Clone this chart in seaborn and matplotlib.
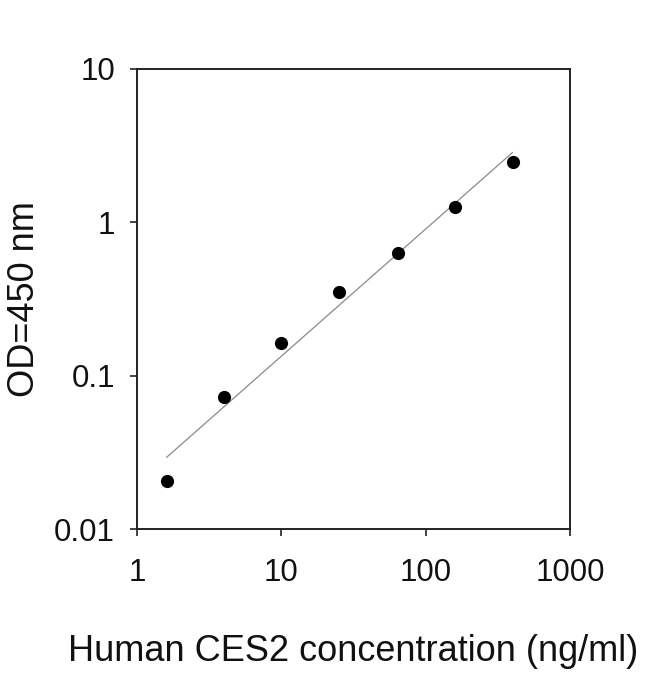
import numpy as np
import pandas as pd
import matplotlib
matplotlib.use("Agg")
import matplotlib.pyplot as plt
import seaborn as sns

# Standard curve data
concentration = [1.6, 4.0, 10.0, 25.0, 64.0, 160.0, 400.0]   # ng/ml
od450 = [0.0206, 0.073, 0.164, 0.35, 0.63, 1.25, 2.47]

x_ticks = [1, 10, 100, 1000]
x_tick_labels = ["1", "10", "100", "1000"]
y_ticks = [0.01, 0.1, 1, 10]
y_tick_labels = ["0.01", "0.1", "1", "10"]

data = pd.DataFrame({"conc": concentration, "od": od450})

# linear fit in log-log space
slope, intercept = np.polyfit(np.log10(data["conc"]), np.log10(data["od"]), 1)
fit = pd.DataFrame({"conc": [data["conc"].min(), data["conc"].max()]})
fit["od"] = 10 ** (intercept + slope * np.log10(fit["conc"]))

sns.set_style("ticks")
plt.rcParams["font.family"] = ["Liberation Sans", "DejaVu Sans"]

fig = plt.figure(figsize=(6.5, 6.74), dpi=100)
ax = fig.add_axes([0.211, 0.215, 0.666, 0.683])

sns.lineplot(x="conc", y="od", data=fit, ax=ax, color="#8a8a8a", linewidth=0.9)
sns.scatterplot(x="conc", y="od", data=data, ax=ax, color="black", s=90,
                edgecolor="black", linewidth=0, zorder=3)

ax.set_xscale("log")
ax.set_yscale("log")
ax.set_xlim(1, 1000)
ax.set_ylim(0.01, 10)
ax.set_xticks(x_ticks)
ax.set_xticklabels(x_tick_labels)
ax.set_yticks(y_ticks)
ax.set_yticklabels(y_tick_labels)
ax.minorticks_off()

for side in ["left", "right", "top", "bottom"]:
    ax.spines[side].set_visible(True)
    ax.spines[side].set_linewidth(1.4)
    ax.spines[side].set_color("#222222")

ax.tick_params(axis="both", direction="out", length=5, width=1.2,
               labelsize=22.5, colors="#222222", labelcolor="#111111")
ax.tick_params(axis="x", pad=16)
ax.tick_params(axis="y", pad=11)

ax.set_xlabel("Human CES2 concentration (ng/ml)", fontsize=26, labelpad=33, color="#111111")
ax.set_ylabel("OD=450 nm", fontsize=26, labelpad=9, color="#111111")

fig.savefig("out.png", dpi=100, facecolor="white")
